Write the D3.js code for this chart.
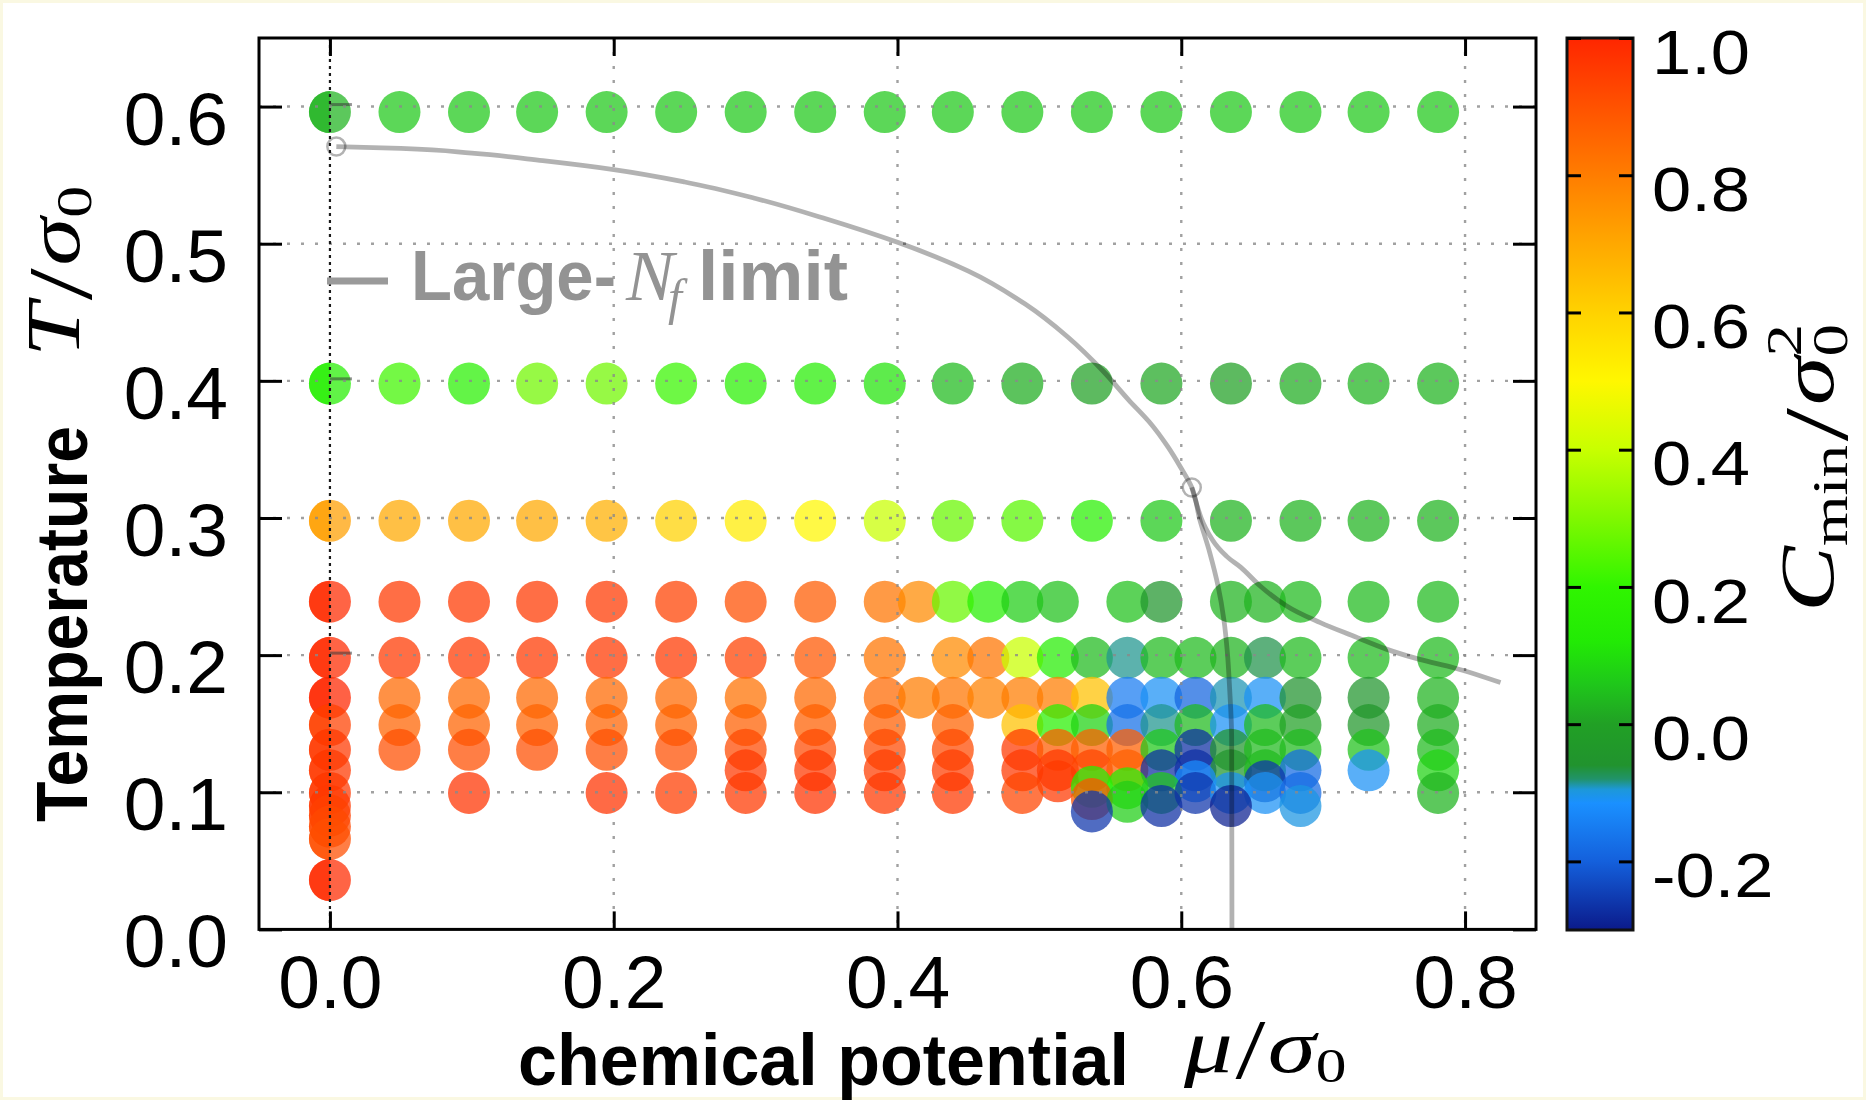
<!DOCTYPE html>
<html>
<head>
<meta charset="utf-8">
<script src="https://cdn.jsdelivr.net/npm/d3@7/dist/d3.min.js"></script>
<style>
  html, body { margin: 0; padding: 0; background: #ffffff; }
  svg { display: block; }
</style>
</head>
<body>
<svg id="chart" width="1866" height="1100"></svg>
<script>
// ---------------------------------------------------------------------------
// Data: simulation points, one row per temperature T/σ0.
// mu = μ/σ0 of each point, c = C_min/σ0² (colour-coded).
// ---------------------------------------------------------------------------
const rowT060 = { T: 0.596,
  mu: [0.000, 0.049, 0.098, 0.146, 0.195, 0.244, 0.293, 0.342, 0.391, 0.439, 0.488, 0.537, 0.586, 0.635, 0.684, 0.732, 0.781],
  c:  [0.03, 0.06, 0.06, 0.06, 0.06, 0.06, 0.06, 0.06, 0.06, 0.06, 0.06, 0.06, 0.06, 0.06, 0.06, 0.06, 0.06] };

const rowT040 = { T: 0.398,
  mu: [0.000, 0.049, 0.098, 0.146, 0.195, 0.244, 0.293, 0.342, 0.391, 0.439, 0.488, 0.537, 0.586, 0.635, 0.684, 0.732, 0.781],
  c:  [0.15, 0.22, 0.16, 0.28, 0.28, 0.21, 0.16, 0.14, 0.11, 0.04, 0.02, 0.00, 0.01, 0.00, 0.02, 0.03, 0.03] };

const rowT030 = { T: 0.298,
  mu: [0.000, 0.049, 0.098, 0.146, 0.195, 0.244, 0.293, 0.342, 0.391, 0.439, 0.488, 0.537, 0.586, 0.635, 0.684, 0.732, 0.781],
  c:  [0.72, 0.70, 0.70, 0.70, 0.68, 0.60, 0.53, 0.50, 0.40, 0.27, 0.25, 0.16, 0.06, 0.03, 0.03, 0.03, 0.03] };

const rowT024 = { T: 0.239,
  mu: [0.000, 0.049, 0.098, 0.146, 0.195, 0.244, 0.293, 0.342, 0.391, 0.415, 0.439, 0.464, 0.488, 0.513, 0.562, 0.586, 0.635, 0.659, 0.684, 0.732, 0.781],
  c:  [0.99, 0.96, 0.96, 0.96, 0.96, 0.94, 0.91, 0.88, 0.82, 0.77, 0.27, 0.15, 0.07, 0.05, 0.05, -0.05, 0.03, 0.03, 0.04, 0.04, 0.04] };

const rowT020 = { T: 0.198,
  mu: [0.000, 0.049, 0.098, 0.146, 0.195, 0.244, 0.293, 0.342, 0.391, 0.439, 0.464, 0.488, 0.513, 0.537, 0.562, 0.586, 0.610, 0.635, 0.659, 0.684, 0.732, 0.781],
  c:  [0.99, 0.96, 0.96, 0.96, 0.96, 0.96, 0.94, 0.89, 0.82, 0.77, 0.82, 0.40, 0.14, 0.04, -0.085, 0.04, 0.04, 0.03, -0.07, 0.04, 0.04, 0.04] };

const rowT017 = { T: 0.169,
  mu: [0.000, 0.049, 0.098, 0.146, 0.195, 0.244, 0.293, 0.342, 0.391, 0.415, 0.439, 0.464, 0.488, 0.513, 0.537, 0.562, 0.586, 0.610, 0.635, 0.659, 0.684, 0.732, 0.781],
  c:  [1.00, 0.85, 0.85, 0.85, 0.85, 0.85, 0.83, 0.85, 0.85, 0.80, 0.82, 0.79, 0.80, 0.80, 0.64, -0.15, -0.11, -0.19, -0.09, -0.11, -0.06, -0.05, 0.03] };

const rowT015 = { T: 0.149,
  mu: [0.000, 0.049, 0.098, 0.146, 0.195, 0.244, 0.293, 0.342, 0.391, 0.439, 0.488, 0.513, 0.537, 0.562, 0.586, 0.610, 0.635, 0.659, 0.684, 0.732, 0.781],
  c:  [0.94, 0.86, 0.86, 0.86, 0.86, 0.86, 0.87, 0.87, 0.87, 0.86, 0.64, 0.16, 0.08, -0.17, -0.085, 0.04, -0.11, 0.04, 0.00, -0.04, 0.02] };

const rowT013 = { T: 0.131,
  mu: [0.000, 0.049, 0.098, 0.146, 0.195, 0.244, 0.293, 0.342, 0.391, 0.439, 0.488, 0.513, 0.537, 0.562, 0.586, 0.610, 0.635, 0.659, 0.684, 0.732, 0.781],
  c:  [0.96, 0.91, 0.91, 0.91, 0.91, 0.91, 0.92, 0.92, 0.92, 0.92, 0.96, 0.88, 0.87, 0.87, 0.06, -0.27, -0.05, 0.04, 0.04, 0.05, 0.04] };

const rowT0115 = { T: 0.116,
  mu: [0.000, 0.293, 0.342, 0.391, 0.439, 0.488, 0.513, 0.537, 0.562, 0.586, 0.610, 0.635, 0.659, 0.684, 0.732, 0.781],
  c:  [0.96, 0.96, 0.96, 0.95, 0.95, 0.96, 0.96, 0.93, 0.87, -0.27, -0.27, -0.05, 0.04, -0.18, -0.11, 0.08] };

const rowT010 = { T: 0.0995,
  mu: [0.000, 0.098, 0.195, 0.244, 0.293, 0.342, 0.391, 0.439, 0.488, 0.586, 0.610, 0.635, 0.659, 0.684, 0.781],
  c:  [0.96, 0.97, 0.97, 0.95, 0.96, 0.97, 0.96, 0.96, 0.93, 0.06, -0.26, -0.11, -0.11, -0.18, 0.03] };

// Points off the regular rows: [μ/σ0, T/σ0, C_min/σ0²]
const extraPoints = [
  [0.000, 0.090, 0.96], [0.000, 0.083, 0.94], [0.000, 0.075, 0.92], [0.000, 0.066, 0.91], [0.000, 0.036, 0.99],
  [0.513, 0.108, 0.96],
  [0.537, 0.104, 0.15], [0.537, 0.095, 0.90], [0.537, 0.086, -0.26],
  [0.562, 0.103, 0.15], [0.562, 0.093, 0.07],
  [0.586, 0.090, -0.27],
  [0.610, 0.108, -0.12],
  [0.635, 0.090, -0.29],
  [0.659, 0.108, -0.26],
  [0.684, 0.090, -0.10]
];

// Short dark marks drawn beside the μ = 0 points
const zeroMuMarks = [0.6, 0.4, 0.2];

// Large-N_f phase boundary (μ/σ0, T/σ0)
const boundaryMain = [
  [0.0045, 0.5708], [0.05, 0.5695], [0.10, 0.566], [0.15, 0.5605], [0.20, 0.554], [0.25, 0.545],
  [0.30, 0.533], [0.35, 0.518], [0.40, 0.501], [0.45, 0.480], [0.49, 0.456], [0.52, 0.432],
  [0.545, 0.407], [0.563, 0.386], [0.5775, 0.370], [0.5905, 0.352], [0.5995, 0.337], [0.6074, 0.3223],
  [0.613, 0.299], [0.620, 0.275], [0.626, 0.250], [0.630, 0.226], [0.6325, 0.2017], [0.634, 0.177],
  [0.6355, 0.140], [0.6357, 0.000]
];
const boundaryBranch = [
  [0.6074, 0.3223], [0.614, 0.300], [0.622, 0.284], [0.632, 0.272], [0.642, 0.264], [0.6556, 0.2504],
  [0.674, 0.236], [0.698, 0.2237], [0.7213, 0.2139], [0.745, 0.2042], [0.768, 0.1969], [0.792, 0.1908],
  [0.825, 0.180]
];
const boundaryMarkers = [[0.0045, 0.5708], [0.6074, 0.3223]];

// Axis ticks
const muTicks = [0.0, 0.2, 0.4, 0.6, 0.8];
const tTicks = [0.0, 0.1, 0.2, 0.3, 0.4, 0.5, 0.6];
const cTicks = [-0.2, 0.0, 0.2, 0.4, 0.6, 0.8, 1.0];

// Colour map for C_min/σ0²
const cStops  = [-0.30, -0.20, -0.115, -0.095, -0.08, -0.06, 0.00, 0.06, 0.12, 0.20, 0.30, 0.40, 0.50, 0.60, 0.70, 0.80, 0.90, 1.00];
const cColors = ["#0b1a8a", "#1460dc", "#1a90ff", "#1d98d8", "#21936a", "#21932e", "#21a025", "#1fc81a", "#22ea05",
                 "#30f500", "#80f800", "#c8ff00", "#fff700", "#ffd200", "#ffa800", "#ff7d00", "#ff5200", "#ff2600"];

// ---------------------------------------------------------------------------
// Layout
// ---------------------------------------------------------------------------
const frame = { left: 259, right: 1536, top: 38, bottom: 929.4 };
const cbar = { left: 1567, right: 1633, top: 38, bottom: 930 };
const dotR = 21, dotOpacity = 0.73;
const mathStretch = 1.28;

const SANS = "'Liberation Sans', Arial, Helvetica, sans-serif";
const SERIF = "'Liberation Serif', 'Times New Roman', serif";

const svg = d3.select("#chart");
const x = d3.scaleLinear().domain([-0.05, 0.85]).range([frame.left, frame.right]);
const y = d3.scaleLinear().domain([0, 0.65]).range([frame.bottom, frame.top]);
const color = d3.scaleLinear().domain(cStops).range(cColors).interpolate(d3.interpolateRgb).clamp(true);
const fmt = v => d3.format(".1f")(v).replace("\u2212", "-");

// page with a faint cream edge
svg.append("rect").attr("width", 1866).attr("height", 1100).attr("fill", "#faf8e2");
svg.append("rect").attr("x", 3).attr("y", 3).attr("width", 1860).attr("height", 1094).attr("fill", "#ffffff");

const defs = svg.append("defs");
defs.append("clipPath").attr("id", "leftOfZero")
  .append("rect").attr("x", frame.left - 60).attr("y", frame.top)
  .attr("width", x(0) - frame.left + 60).attr("height", frame.bottom - frame.top);

// ---- points -----------------------------------------------------------------
const rows = [rowT060, rowT040, rowT030, rowT024, rowT020, rowT017, rowT015, rowT013, rowT0115, rowT010];
const points = [];
rows.forEach(r => r.mu.forEach((m, i) => points.push({ mu: m, T: r.T, c: r.c[i] })));
extraPoints.forEach(([m, T, c]) => points.push({ mu: m, T: T, c: c }));
points.sort((a, b) => b.T - a.T);

const gDots = svg.append("g");
gDots.selectAll("circle").data(points).join("circle")
  .attr("cx", d => x(d.mu)).attr("cy", d => y(d.T)).attr("r", dotR)
  .attr("fill", d => color(d.c)).attr("fill-opacity", dotOpacity);

// points at μ = 0 are stacked twice on the left half
svg.append("g").attr("clip-path", "url(#leftOfZero)")
  .selectAll("circle").data(points.filter(d => d.mu === 0)).join("circle")
  .attr("cx", d => x(d.mu)).attr("cy", d => y(d.T)).attr("r", dotR)
  .attr("fill", d => color(d.c)).attr("fill-opacity", dotOpacity);

svg.append("g").selectAll("line").data(zeroMuMarks).join("line")
  .attr("x1", x(0)).attr("x2", x(0) + 22).attr("y1", d => y(d) - 2).attr("y2", d => y(d) - 2)
  .attr("stroke", "#3a3a3a").attr("stroke-opacity", 0.55).attr("stroke-width", 3);

// ---- grid -------------------------------------------------------------------
const gGrid = svg.append("g");
gGrid.selectAll("line.h").data(tTicks.filter(t => t > 0)).join("line")
  .attr("x1", frame.left).attr("x2", frame.right)
  .attr("y1", d => y(d)).attr("y2", d => y(d))
  .attr("stroke", "#8a8a8a").attr("stroke-width", 2.4).attr("stroke-dasharray", "3 11").attr("opacity", 0.8);
gGrid.selectAll("line.v").data(muTicks.filter(m => m > 0)).join("line")
  .attr("y1", frame.top).attr("y2", frame.bottom)
  .attr("x1", d => x(d)).attr("x2", d => x(d))
  .attr("stroke", "#8a8a8a").attr("stroke-width", 2.4).attr("stroke-dasharray", "3 11").attr("opacity", 0.8);
gGrid.append("line")
  .attr("x1", x(0)).attr("x2", x(0)).attr("y1", frame.top).attr("y2", frame.bottom)
  .attr("stroke", "#1a1a1a").attr("stroke-width", 2.2).attr("stroke-dasharray", "3 4");

// ---- Large-N_f boundary -----------------------------------------------------
const lineMain = d3.line().x(d => x(d[0])).y(d => y(d[1])).curve(d3.curveMonotoneY);
const lineBranch = d3.line().x(d => x(d[0])).y(d => y(d[1])).curve(d3.curveMonotoneX);
const gCurve = svg.append("g").attr("fill", "none").attr("stroke", "#000").attr("stroke-opacity", 0.3);
gCurve.append("path").attr("d", lineMain(boundaryMain)).attr("stroke-width", 4.8);
gCurve.append("path").attr("d", lineBranch(boundaryBranch)).attr("stroke-width", 4.8);
gCurve.selectAll("circle").data(boundaryMarkers).join("circle")
  .attr("cx", d => x(d[0])).attr("cy", d => y(d[1])).attr("r", 9).attr("stroke-width", 2.5);

// ---- frame and axes ---------------------------------------------------------
function styleAxis(g) {
  g.select(".domain").remove();
  g.selectAll(".tick line").attr("stroke", "#000").attr("stroke-width", 3);
}
svg.append("g").attr("transform", `translate(0,${frame.bottom})`)
  .call(d3.axisBottom(x).tickValues(muTicks).tickSize(-18).tickPadding(25).tickFormat(fmt))
  .call(styleAxis)
  .call(g => g.selectAll("text").attr("font-family", SANS).attr("font-size", 75).attr("fill", "#000").attr("dy", "0.71em"));
svg.append("g").attr("transform", `translate(0,${frame.top})`)
  .call(d3.axisTop(x).tickValues(muTicks).tickSize(-18).tickFormat(""))
  .call(styleAxis);
svg.append("g").attr("transform", `translate(${frame.left},0)`)
  .call(d3.axisLeft(y).tickValues(tTicks).tickSize(-23).tickPadding(31).tickFormat(fmt))
  .call(styleAxis)
  .call(g => g.selectAll("text").attr("font-family", SANS).attr("font-size", 75).attr("fill", "#000").attr("dy", "0.5em"));
svg.append("g").attr("transform", `translate(${frame.right},0)`)
  .call(d3.axisRight(y).tickValues(tTicks).tickSize(-23).tickFormat(""))
  .call(styleAxis);

svg.append("rect")
  .attr("x", frame.left).attr("y", frame.top)
  .attr("width", frame.right - frame.left).attr("height", frame.bottom - frame.top)
  .attr("fill", "none").attr("stroke", "#000").attr("stroke-width", 3);

// ---- legend -----------------------------------------------------------------
const legColor = "#939393";
svg.append("line").attr("x1", 327).attr("x2", 388).attr("y1", 281).attr("y2", 281)
  .attr("stroke", "#9a9a9a").attr("stroke-width", 7);
svg.append("text").attr("x", 411).attr("y", 300).attr("fill", legColor)
  .attr("font-family", SANS).attr("font-weight", "bold").attr("font-size", 70)
  .attr("textLength", 205).attr("lengthAdjust", "spacingAndGlyphs").text("Large-");
const legN = svg.append("text").attr("x", 626).attr("y", 300).attr("fill", legColor)
  .attr("font-family", SERIF).attr("font-style", "italic").attr("font-size", 72);
legN.append("tspan").text("N");
legN.append("tspan").attr("font-size", 50).attr("dy", 14).attr("dx", -6).text("f");
svg.append("text").attr("x", 698).attr("y", 300).attr("fill", legColor)
  .attr("font-family", SANS).attr("font-weight", "bold").attr("font-size", 70)
  .attr("textLength", 150).attr("lengthAdjust", "spacingAndGlyphs").text("limit");

// ---- axis titles ------------------------------------------------------------
svg.append("text").attr("x", 518).attr("y", 1085)
  .attr("font-family", SANS).attr("font-weight", "bold").attr("font-size", 72)
  .attr("textLength", 611).attr("lengthAdjust", "spacingAndGlyphs").text("chemical potential");

// math part of an axis title, stretched along its writing direction
function mathTitle(transform) {
  return svg.append("g").attr("transform", transform + ` scale(${mathStretch},1)`)
    .append("text").attr("x", 0).attr("y", 0).attr("font-family", SERIF).attr("font-size", 76);
}
const xm = mathTitle("translate(1184,1072)");
xm.append("tspan").attr("font-style", "italic").text("μ");
xm.append("tspan").attr("dx", 2).attr("font-size", 84).attr("dy", 6).text("/");
xm.append("tspan").attr("font-style", "italic").attr("dx", 2).attr("dy", -6).text("σ");
xm.append("tspan").attr("font-size", 48).attr("dy", 10).text("0");

const yt = svg.append("g").attr("transform", "translate(87,822) rotate(-90)");
yt.append("text").attr("x", 0).attr("y", 0)
  .attr("font-family", SANS).attr("font-weight", "bold").attr("font-size", 72)
  .attr("textLength", 396).attr("lengthAdjust", "spacingAndGlyphs").text("Temperature");
const ym = mathTitle("translate(79,357) rotate(-90)");
ym.append("tspan").attr("font-style", "italic").text("T");
ym.append("tspan").attr("dx", 2).attr("font-size", 90).attr("dy", 12).text("/");
ym.append("tspan").attr("font-style", "italic").attr("dx", 2).attr("dy", -12).text("σ");
ym.append("tspan").attr("font-size", 50).attr("dy", 12).text("0");

// ---- colour bar -------------------------------------------------------------
const cy = d3.scaleLinear().domain([-0.3, 1.0]).range([cbar.bottom, cbar.top]);
const grad = defs.append("linearGradient").attr("id", "cgrad")
  .attr("x1", 0).attr("x2", 0).attr("y1", 1).attr("y2", 0);
grad.selectAll("stop").data(cStops).join("stop")
  .attr("offset", d => (d - (-0.3)) / 1.3)
  .attr("stop-color", d => color(d));
svg.append("rect").attr("x", cbar.left).attr("y", cbar.top)
  .attr("width", cbar.right - cbar.left).attr("height", cbar.bottom - cbar.top)
  .attr("fill", "url(#cgrad)").attr("stroke", "#111").attr("stroke-width", 3);
svg.append("g").attr("transform", `translate(${cbar.right},0)`)
  .call(d3.axisRight(cy).tickValues(cTicks).tickSize(-14).tickPadding(19).tickFormat(fmt))
  .call(styleAxis)
  .call(g => g.selectAll("text").attr("font-family", SANS).attr("font-size", 63).attr("fill", "#000")
    .attr("dy", "0.56em").attr("x", 19 / 1.12).attr("transform", "scale(1.12,1)"));
svg.append("g").attr("transform", `translate(${cbar.left},0)`)
  .call(d3.axisLeft(cy).tickValues(cTicks).tickSize(-14).tickFormat(""))
  .call(styleAxis);

const ct = svg.append("g").attr("transform", "translate(1833,612) rotate(-90) scale(1.3,1)")
  .append("text").attr("x", 0).attr("y", 0).attr("font-family", SERIF).attr("font-size", 76);
ct.append("tspan").attr("font-style", "italic").text("C");
ct.append("tspan").attr("font-size", 50).attr("dy", 14).text("min");
ct.append("tspan").attr("dy", 0).attr("dx", 3).attr("font-size", 92).text("/");
ct.append("tspan").attr("font-style", "italic").attr("dx", 2).attr("dy", -14).text("σ");
ct.append("tspan").attr("font-size", 50).attr("dy", 14).text("0");
ct.append("tspan").attr("font-size", 50).attr("dy", -46).attr("dx", -25).text("2");
</script>
</body>
</html>
